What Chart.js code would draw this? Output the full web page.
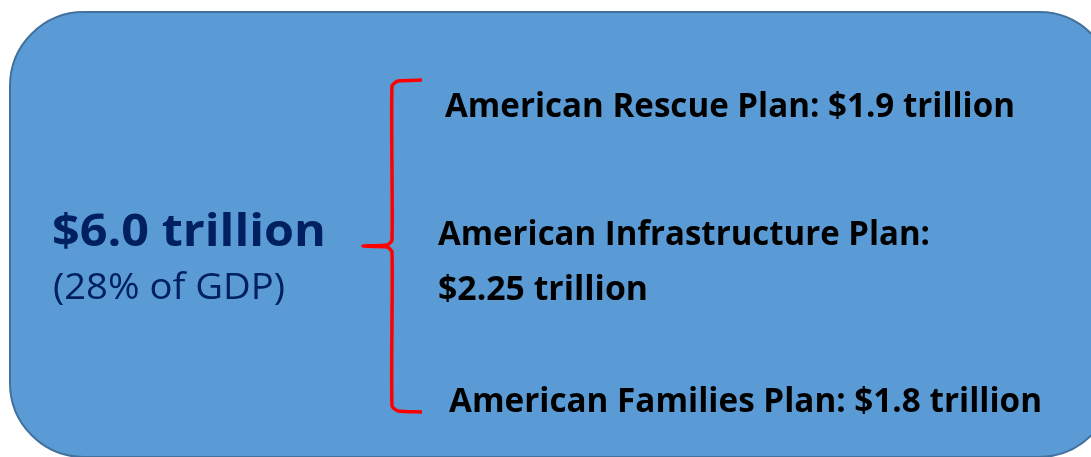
<!DOCTYPE html>
<html>
<head>
<meta charset="utf-8">
<script src="https://cdn.jsdelivr.net/npm/chart.js@4.4.1/dist/chart.umd.min.js"></script>
<style>
  html, body { margin: 0; padding: 0; background: #fff; }
  #wrap { width: 1091px; height: 457px; position: relative; }
</style>
</head>
<body>
<div id="wrap"><canvas id="c"></canvas></div>
<script>
// ── Data ──────────────────────────────────────────────
const planNames  = ['American Rescue Plan', 'American Infrastructure Plan', 'American Families Plan'];
const planValues = [1.9, 2.25, 1.8];          // $ trillion
const totalValue = [6.0];                      // $ trillion
const gdpShare   = [28];                       // % of GDP

const fmt = v => '$' + v + ' trillion';

// brace drawn as a line through the plot scale (pixel-like units)
const braceX = [422, 398, 392, 392, 387, 363, 387, 392, 392, 398, 422];
const braceY = [80, 81, 86, 240, 245, 246, 247, 252, 406, 411, 412];

// draw text squeezed/stretched to a given width
function fitText(ctx, txt, px, py, w) {
    const m = ctx.measureText(txt).width;
    ctx.save();
    ctx.translate(px, py);
    ctx.scale(w / m, 1);
    ctx.fillText(txt, 0, 0);
    ctx.restore();
}

const infoPlugin = {
    id: 'info',
    beforeDatasetsDraw(chart) {
        const { ctx, scales: { x, y } } = chart;
        ctx.save();
        // rounded box
        const bx = x.getPixelForValue(10), by = y.getPixelForValue(12);
        const bw = x.getPixelForValue(1113) - bx, bh = y.getPixelForValue(457) - by;
        ctx.beginPath();
        ctx.roundRect(bx, by, bw, bh, 74);
        ctx.fillStyle = '#5B9BD5';
        ctx.fill();
        ctx.lineWidth = 2;
        ctx.strokeStyle = '#41719C';
        ctx.stroke();
        ctx.restore();
    },
    afterDatasetsDraw(chart) {
        const { ctx, scales: { x, y } } = chart;
        const X = v => x.getPixelForValue(v), Y = v => y.getPixelForValue(v);
        ctx.save();
        ctx.textBaseline = 'alphabetic';
        ctx.textAlign = 'left';

        // total
        ctx.fillStyle = '#002060';
        ctx.font = 'bold 45px "Open Sans"';
        fitText(ctx, fmt(totalValue[0].toFixed(1)), X(52), Y(246), 274);
        ctx.font = '36px "Open Sans"';
        fitText(ctx, '(' + gdpShare[0] + '% of GDP)', X(53), Y(299), 232);

        // plans
        ctx.fillStyle = '#000';
        ctx.font = 'bold 34px "Open Sans"';
        fitText(ctx, planNames[0] + ': ' + fmt(planValues[0]), X(445), Y(117), 570);
        fitText(ctx, planNames[1] + ':', X(438), Y(245), 492);
        fitText(ctx, fmt(planValues[1]), X(438), Y(300), 210);
        fitText(ctx, planNames[2] + ': ' + fmt(planValues[2]), X(449), Y(412), 593);
        ctx.restore();
    }
};

new Chart(document.getElementById('c'), {
    type: 'scatter',
    data: {
        datasets: [{
            data: braceX.map((v, i) => ({ x: v, y: braceY[i] })),
            showLine: true,
            borderColor: '#FF0000',
            borderWidth: 3.5,
            pointRadius: 0,
            tension: 0.2,
            fill: false,
        }],
    },
    options: {
        responsive: true,
        maintainAspectRatio: false,
        animation: false,
        layout: { padding: 0 },
        plugins: { legend: { display: false }, tooltip: { enabled: false } },
        scales: {
            x: { type: 'linear', min: 0, max: 1091, display: false },
            y: { type: 'linear', min: 0, max: 457, reverse: true, display: false },
        },
    },
    plugins: [infoPlugin],
});
</script>
</body>
</html>
